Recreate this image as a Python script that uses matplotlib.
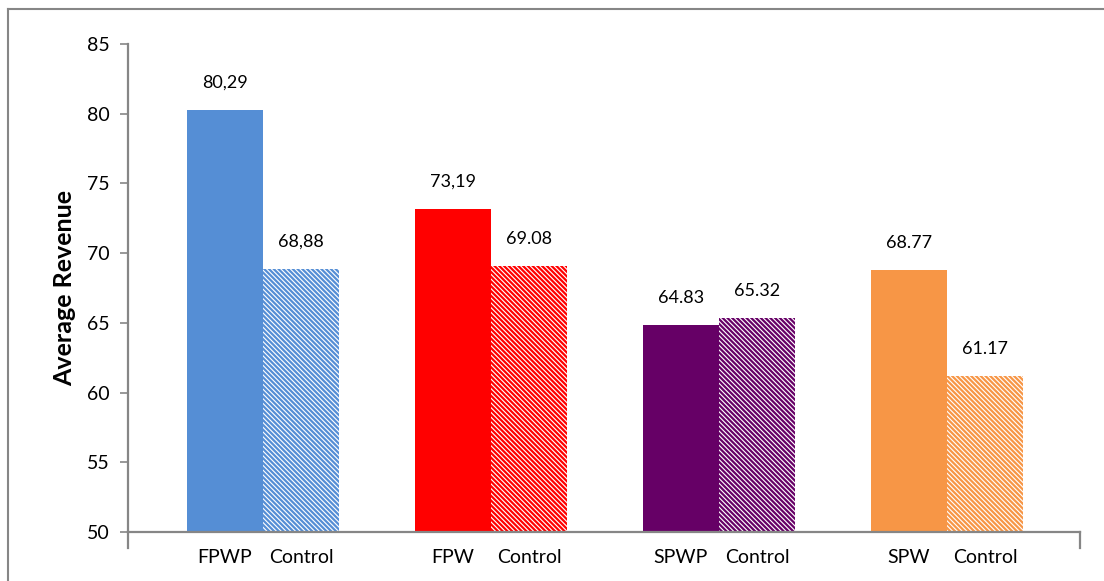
import matplotlib
matplotlib.use('Agg')
import matplotlib.pyplot as plt
from matplotlib.lines import Line2D
import numpy as np

plt.rcParams['font.family'] = ['Lato', 'DejaVu Sans']
plt.rcParams['hatch.linewidth'] = 1.6

groups = ['FPWP', 'FPW', 'SPWP', 'SPW']
treatment = [80.29, 73.19, 64.83, 68.77]
control = [68.88, 69.08, 65.32, 61.17]
treatment_labels = ['80,29', '73,19', '64.83', '68.77']
control_labels = ['68,88', '69.08', '65.32', '61.17']
colors = ['#558ED5', '#FF0000', '#660066', '#F79646']

fig = plt.figure(figsize=(11.04, 5.81), dpi=100)
ax = fig.add_axes((128/1104, 1-532/581, (1080-128)/1104, (532-44)/581))

x = np.arange(len(groups))
w = 0.335
grey = '#868686'

for i in range(len(groups)):
    ax.bar(x[i]-w/2, treatment[i], w, color=colors[i], linewidth=0, zorder=2)
    ax.bar(x[i]+w/2, control[i], w, color='white', edgecolor=colors[i],
           hatch='\\' * 7, linewidth=0, zorder=2)
    ax.annotate(treatment_labels[i], (x[i]-w/2, treatment[i]), xytext=(0, 14),
                textcoords='offset points', ha='center', va='bottom', fontsize=13)
    ax.annotate(control_labels[i], (x[i]+w/2, control[i]), xytext=(0, 14),
                textcoords='offset points', ha='center', va='bottom', fontsize=13)

ax.set_ylim(50, 85)
ax.set_yticks(range(50, 86, 5))
ax.set_xlim(-0.592, 3.583)

tick_pos = np.ravel(np.column_stack([x-w/2, x+w/2]))
tick_names = []
for g in groups:
    tick_names += [g, 'Control']
ax.set_xticks(tick_pos)
ax.set_xticklabels(tick_names, fontsize=14)
ax.tick_params(axis='x', length=0, pad=12)
ax.tick_params(axis='y', length=6, width=1.2, color=grey, labelsize=14, pad=7)

for s in ['top', 'right']:
    ax.spines[s].set_visible(False)
for s in ['left', 'bottom']:
    ax.spines[s].set_color(grey)
    ax.spines[s].set_linewidth(1.6)

# axis end ticks dropping below the category axis
ax.plot([0, 0], [0, -16/488], transform=ax.transAxes, color=grey, lw=1.6, clip_on=False)
ax.plot([1, 1], [0, -16/488], transform=ax.transAxes, color=grey, lw=1.6, clip_on=False)

ax.set_ylabel('Average Revenue', fontsize=18, fontweight='bold', labelpad=8)

# chart frame
fig.add_artist(Line2D([8/1104, 8/1104], [0, 1-9/581], color=grey, lw=1.5))
fig.add_artist(Line2D([8/1104, 1], [1-9/581, 1-9/581], color=grey, lw=1.5))

fig.savefig('out.png', dpi=100)
